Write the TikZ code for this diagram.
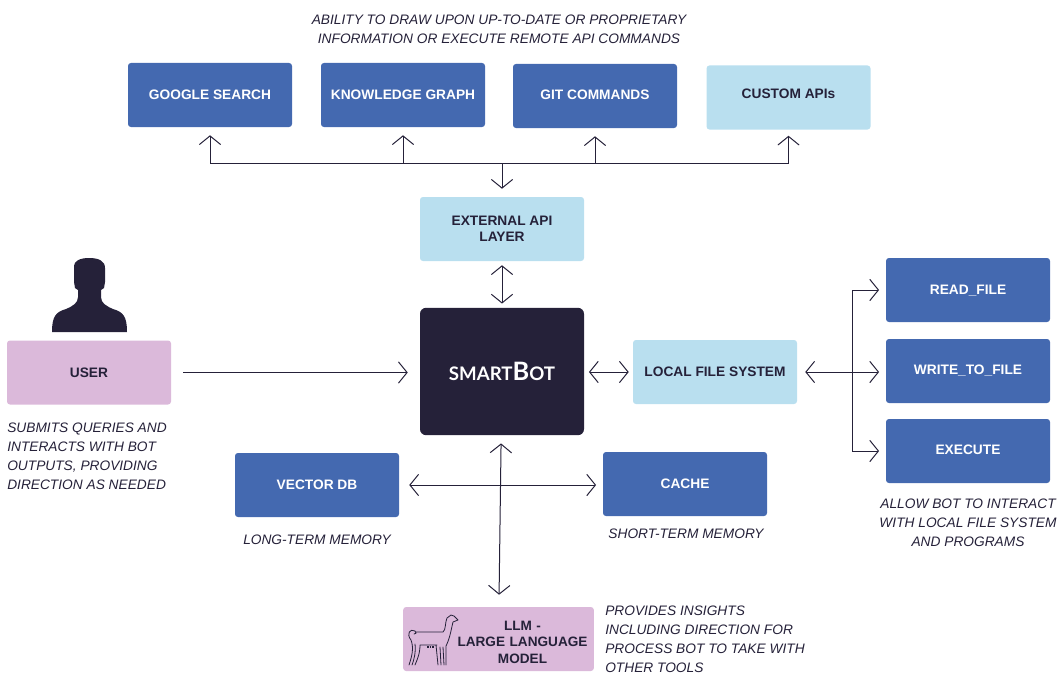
\documentclass[tikz,border=0pt]{standalone}
\usepackage{fontspec}
\setmainfont{Liberation Sans}
\newfontfamily\brandfont{Lato}
\usepackage{xcolor}
\usetikzlibrary{arrows.meta}
\definecolor{ink}{HTML}{252139}
\definecolor{toolblue}{HTML}{4469B0}
\definecolor{paleblue}{HTML}{B9DFEF}
\definecolor{mauve}{HTML}{DBB9DA}
\tikzset{
  box/.style={rectangle, rounded corners=2.2pt, minimum width=123pt, minimum height=48pt, inner sep=0pt, align=center, font=\fontsize{10.3pt}{12pt}\selectfont\bfseries},
  tool/.style={box, fill=toolblue, text=white},
  layer/.style={box, fill=paleblue, text=ink},
  human/.style={box, fill=mauve, text=ink},
  note/.style={inner sep=0pt, font=\fontsize{10.3pt}{14.2pt}\selectfont\itshape, text=ink},
  conn/.style={draw=ink, line width=0.75pt, {Straight Barb[length=6.5pt,width=16pt]}-{Straight Barb[length=6.5pt,width=16pt]}},
  oneway/.style={draw=ink, line width=0.75pt, -{Straight Barb[length=6.5pt,width=16pt]}},
  every node/.style={text=ink}
}
\begin{document}
\begin{tikzpicture}[x=0.75pt,y=-0.75pt]
  \useasboundingbox (0,0) rectangle (1059,674);

  % top row
  \node[note,align=center] (topnote) at (499,29) {ABILITY TO DRAW UPON UP-TO-DATE OR PROPRIETARY\\INFORMATION OR EXECUTE REMOTE API COMMANDS};
  \node[tool] (google) at (210,95) {GOOGLE SEARCH};
  \node[tool] (graph) at (403,95) {KNOWLEDGE GRAPH};
  \node[tool] (git) at (595,96) {\raisebox{1.5pt}{GIT COMMANDS}};
  \node[layer] (custom) at (788.5,97.5) {\raisebox{-1.1pt}[0pt][0pt]{CUSTOM APIs}};
  \node[layer] (api) at (502,229) {EXTERNAL API\\LAYER};

  % middle row
  \node[box, fill=ink, rounded corners=4.5pt, minimum height=95.5pt] (bot) at (502,371.5) {\brandfont\color{white}\fontsize{14pt}{14pt}\selectfont SMART\fontsize{19pt}{14pt}\selectfont B\fontsize{14pt}{14pt}\selectfont OT};
  \node[human] (user) at (89,372.5) {USER};
  \node[layer] (files) at (715,372) {\raisebox{-3.7pt}[0pt][0pt]{LOCAL FILE SYSTEM}};
  \node[tool] (read) at (968,290) {\raisebox{-3.7pt}[0pt][0pt]{READ\_FILE}};
  \node[tool] (write) at (968,371) {\raisebox{-1.5pt}{WRITE\_TO\_FILE}};
  \node[tool] (exec) at (968,451) {\raisebox{1.5pt}{EXECUTE}};

  % memory and model
  \node[tool] (vector) at (317,485) {VECTOR DB};
  \node[tool] (cache) at (685,484) {\raisebox{-3.7pt}[0pt][0pt]{CACHE}};
  \node[human, minimum width=143pt, font=\fontsize{10.2pt}{12.5pt}\selectfont\bfseries, text width=143pt] (llm) at (498.5,639) {\rule{0pt}{12pt}\hspace*{36pt}LLM -\\\hspace*{36pt}LARGE LANGUAGE\\\hspace*{36pt}MODEL};

  % notes
  \node[note,align=left,anchor=north west] (usernote) at (7,423) {SUBMITS QUERIES AND\\INTERACTS WITH BOT\\OUTPUTS, PROVIDING\\DIRECTION AS NEEDED};
  \node[note] (longnote) at (317,540) {LONG-TERM MEMORY};
  \node[note] (shortnote) at (686,534) {SHORT-TERM MEMORY};
  \node[note,align=center] (execnote) at (968,523) {ALLOW BOT TO INTERACT\\WITH LOCAL FILE SYSTEM\\AND PROGRAMS};
  \node[note,align=left,anchor=north west] (llmnote) at (605,606) {PROVIDES INSIGHTS\\INCLUDING DIRECTION FOR\\PROCESS BOT TO TAKE WITH\\OTHER TOOLS};

  % connectors
  \coordinate (busapi) at (502,163);
  \coordinate (busfiles) at (852,372);
  \draw[oneway, shorten >=6pt] (busapi) -| (google);
  \draw[oneway, shorten >=6pt] (busapi) -| (graph);
  \draw[oneway, shorten >=6pt] (busapi) -| (git);
  \draw[oneway, shorten >=4.5pt] (busapi) -| (custom);
  \draw[oneway, shorten >=6pt] (busapi) -- (api);
  \draw[conn, shorten <=3pt, shorten >=3pt] (api) -- (bot);
  \draw[oneway, shorten <=9pt, shorten >=9pt] (user.east) -- (user.east -| bot.west);
  \draw[conn, shorten <=3.5pt, shorten >=3pt] (bot.east |- files.west) -- (files.west);
  \draw[conn, shorten <=6pt, shorten >=5pt] (files.east) -- (files.east -| write.west);
  \draw[oneway, shorten >=5pt] (busfiles) |- (read);
  \draw[oneway, shorten >=5pt] (busfiles) |- (exec);
  \draw[conn, shorten <=7.5pt, shorten >=5pt] (vector.east) -- (vector.east -| cache.west);
  \draw[conn, shorten <=6pt, shorten >=9pt] (bot) -- (llm);

  % user silhouette
  \fill[ink] (52,332) .. controls (52,316) and (56,312) .. (66,309) .. controls (73,306) and (78,303) .. (78,297)
    -- (78,290) -- (75,288) -- (74,282) -- (74,266) .. controls (74,261) and (80,258) .. (89,258)
    .. controls (99,258) and (105,261) .. (105,268) -- (105,282) -- (104,288) -- (101,290) -- (101,297)
    .. controls (101,303) and (106,306) .. (113,309) .. controls (123,312) and (127,316) .. (127,332) -- cycle;

  % llama
  \draw[ink, line width=0.6pt, line cap=round, line join=round]
    (411,640) .. controls (406,634) and (410,628) .. (415,631) .. controls (417,632) and (416,635) .. (414,634)
    (416,632) -- (443,632) .. controls (446,630) and (445,622) .. (447,618) -- (451,615) -- (454,616) -- (458,620) -- (453,622)
    .. controls (451,630) and (450,638) .. (446,646)
    (411,640) .. controls (414,648) and (412,656) .. (409,665)
    (415,644) .. controls (416,652) and (414,660) .. (412,665)
    (420,645) .. controls (420,654) and (417,660) .. (415,665)
    (420,645) -- (437,645)
    (436,645) -- (438,665) (440,647) -- (441,665) (443,647) -- (444,665) (446,646) -- (446,665);
  \draw[ink, line width=1.1pt, dash pattern=on 1.2pt off 0.8pt] (427,647) -- (434,647);
\end{tikzpicture}
\end{document}
